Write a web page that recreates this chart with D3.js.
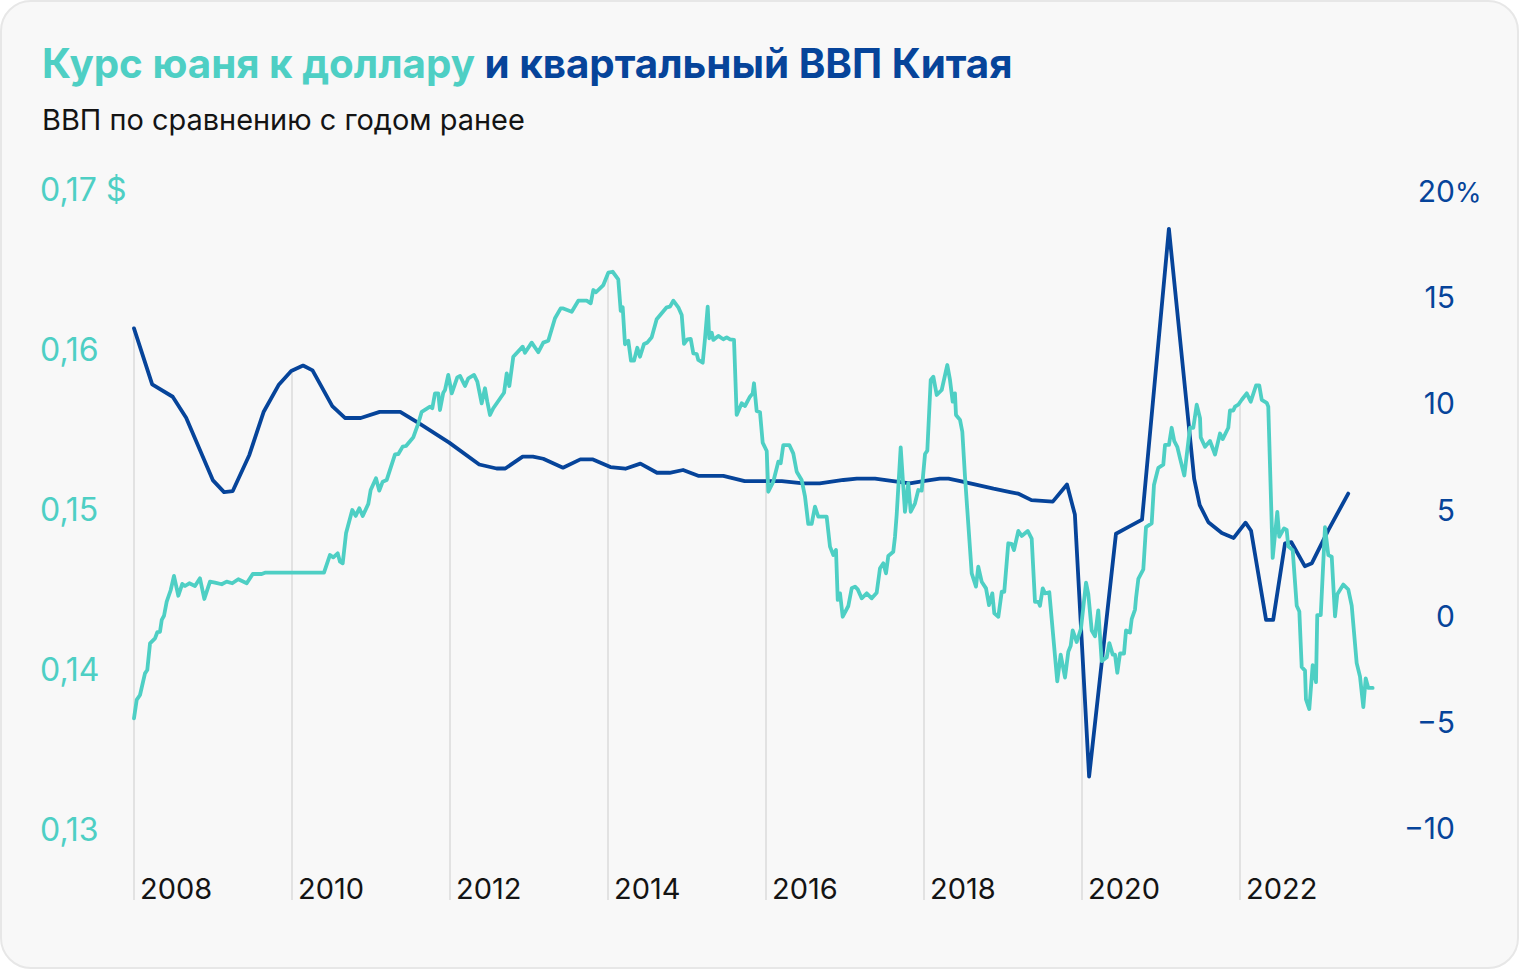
<!DOCTYPE html>
<html><head><meta charset="utf-8">
<script src="https://cdn.jsdelivr.net/npm/d3@7"></script>
<style>
html,body{margin:0;padding:0;background:#ffffff;}
svg{display:block;}
text{font-family:Inter,"Noto Sans",Roboto,sans-serif;}
</style></head><body>
<svg id="chart" width="1520" height="970"></svg>
<script>
// ---- DATA ----
const titleParts = ["Курс юаня к доллару", " и квартальный ВВП Китая"];
const subtitle = "ВВП по сравнению с годом ранее";

const yearTicks = [2008, 2010, 2012, 2014, 2016, 2018, 2020, 2022];
const yearLabels = ["2008", "2010", "2012", "2014", "2016", "2018", "2020", "2022"];

const yuanTicks = [0.13, 0.14, 0.15, 0.16, 0.17];
const yuanLabels = ["0,13", "0,14", "0,15", "0,16", "0,17 $"];

const gdpTicks = [-10, -5, 0, 5, 10, 15, 20];
const gdpLabels = ["−10", "−5", "0", "5", "10", "15", "20"];
const gdpTopSuffix = "%";

// Quarterly GDP, % y/y : [date (decimal year), value]
const gdpSeries = [
[2008.00,13.53],[2008.23,10.89],[2008.49,10.31],[2008.66,9.32],[2009.00,6.37],[2009.14,5.82],
[2009.25,5.87],[2009.46,7.57],[2009.64,9.59],[2009.83,10.86],[2009.99,11.52],[2010.14,11.78],
[2010.26,11.55],[2010.51,9.87],[2010.67,9.31],[2010.87,9.31],[2011.11,9.60],[2011.37,9.60],
[2011.62,9.03],[2011.99,8.15],[2012.37,7.12],[2012.59,6.93],[2012.70,6.93],[2012.92,7.49],
[2013.05,7.49],[2013.18,7.39],[2013.43,6.97],[2013.65,7.36],[2013.81,7.36],[2014.03,7.00],
[2014.22,6.92],[2014.41,7.16],[2014.62,6.73],[2014.78,6.73],[2014.95,6.86],[2015.15,6.58],
[2015.46,6.58],[2015.73,6.34],[2016.20,6.34],[2016.47,6.23],[2016.68,6.23],[2016.98,6.39],
[2017.15,6.45],[2017.38,6.45],[2017.61,6.34],[2017.82,6.23],[2017.99,6.34],[2018.20,6.45],
[2018.31,6.45],[2018.46,6.34],[2018.88,5.98],[2019.09,5.82],[2019.19,5.75],[2019.36,5.44],
[2019.63,5.37],[2019.81,6.18],[2019.91,4.76],[2020.09,-7.58],[2020.43,3.86],[2020.59,4.18],
[2020.76,4.52],[2021.10,18.22],[2021.42,6.44],[2021.49,5.21],[2021.60,4.40],[2021.77,3.89],
[2021.92,3.66],[2022.07,4.38],[2022.14,4.00],[2022.33,-0.20],[2022.42,-0.20],[2022.57,3.41],
[2022.65,3.46],[2022.82,2.33],[2022.91,2.47],[2023.12,4.04],[2023.37,5.75]
];

// Yuan in USD : [date (decimal year), value]
const yuanSeries = [
[2008.000,0.13698],[2008.034,0.13813],[2008.076,0.13844],[2008.139,0.13979],[2008.168,0.14000],
[2008.203,0.14167],[2008.266,0.14198],[2008.295,0.14236],[2008.329,0.14239],[2008.351,0.14313],
[2008.380,0.14339],[2008.414,0.14427],[2008.465,0.14500],[2008.506,0.14588],[2008.561,0.14464],
[2008.611,0.14538],[2008.646,0.14525],[2008.700,0.14542],[2008.772,0.14525],[2008.835,0.14573],
[2008.890,0.14444],[2008.962,0.14552],[2009.025,0.14546],[2009.110,0.14536],[2009.173,0.14552],
[2009.244,0.14542],[2009.320,0.14567],[2009.427,0.14542],[2009.503,0.14600],[2009.616,0.14600],
[2009.658,0.14608],[2010.405,0.14608],[2010.481,0.14719],[2010.523,0.14704],[2010.578,0.14729],
[2010.608,0.14677],[2010.642,0.14667],[2010.684,0.14854],[2010.763,0.15000],[2010.806,0.14963],
[2010.852,0.15011],[2010.895,0.14963],[2010.966,0.15038],[2010.996,0.15125],[2011.063,0.15198],
[2011.105,0.15121],[2011.148,0.15177],[2011.199,0.15188],[2011.304,0.15348],[2011.346,0.15350],
[2011.401,0.15396],[2011.443,0.15400],[2011.515,0.15442],[2011.535,0.15454],[2011.599,0.15542],
[2011.642,0.15614],[2011.747,0.15646],[2011.776,0.15636],[2011.810,0.15729],[2011.852,0.15729],
[2011.873,0.15625],[2011.915,0.15733],[2011.937,0.15750],[2011.978,0.15844],[2012.022,0.15729],
[2012.092,0.15829],[2012.127,0.15838],[2012.190,0.15775],[2012.232,0.15823],[2012.304,0.15844],
[2012.346,0.15802],[2012.401,0.15667],[2012.443,0.15761],[2012.472,0.15677],[2012.506,0.15594],
[2012.548,0.15636],[2012.684,0.15733],[2012.718,0.15854],[2012.751,0.15775],[2012.801,0.15958],
[2012.920,0.16021],[2012.949,0.15983],[2013.034,0.16046],[2013.118,0.15986],[2013.181,0.16046],
[2013.244,0.16058],[2013.329,0.16198],[2013.401,0.16260],[2013.434,0.16260],[2013.541,0.16239],
[2013.624,0.16308],[2013.730,0.16308],[2013.781,0.16292],[2013.814,0.16375],[2013.848,0.16361],
[2013.941,0.16406],[2014.004,0.16483],[2014.059,0.16489],[2014.130,0.16442],[2014.161,0.16244],
[2014.186,0.16267],[2014.215,0.16036],[2014.257,0.16058],[2014.291,0.15933],[2014.329,0.15933],
[2014.371,0.16014],[2014.405,0.15958],[2014.456,0.16038],[2014.497,0.16046],[2014.553,0.16080],
[2014.616,0.16192],[2014.743,0.16267],[2014.785,0.16271],[2014.827,0.16308],[2014.890,0.16267],
[2014.933,0.16219],[2014.962,0.16038],[2015.004,0.16067],[2015.047,0.16069],[2015.080,0.15979],
[2015.123,0.15975],[2015.143,0.15938],[2015.199,0.15921],[2015.228,0.16073],[2015.262,0.16271],
[2015.282,0.16073],[2015.313,0.16108],[2015.333,0.16063],[2015.396,0.16088],[2015.459,0.16067],
[2015.503,0.16079],[2015.544,0.16067],[2015.595,0.16063],[2015.629,0.15594],[2015.692,0.15667],
[2015.734,0.15650],[2015.797,0.15708],[2015.832,0.15729],[2015.848,0.15792],[2015.882,0.15619],
[2015.924,0.15611],[2015.958,0.15421],[2016.009,0.15369],[2016.029,0.15114],[2016.092,0.15177],
[2016.156,0.15302],[2016.186,0.15292],[2016.219,0.15406],[2016.295,0.15406],[2016.345,0.15354],
[2016.389,0.15239],[2016.451,0.15188],[2016.494,0.15083],[2016.535,0.14913],[2016.578,0.14913],
[2016.620,0.15021],[2016.662,0.14958],[2016.768,0.14958],[2016.810,0.14771],[2016.852,0.14719],
[2016.886,0.14750],[2016.908,0.14438],[2016.937,0.14479],[2016.971,0.14333],[2017.042,0.14400],
[2017.085,0.14511],[2017.127,0.14521],[2017.161,0.14504],[2017.211,0.14448],[2017.275,0.14479],
[2017.338,0.14448],[2017.401,0.14483],[2017.443,0.14636],[2017.485,0.14667],[2017.519,0.14604],
[2017.548,0.14713],[2017.611,0.14739],[2017.633,0.14833],[2017.654,0.14969],[2017.705,0.15392],
[2017.759,0.14989],[2017.801,0.15167],[2017.832,0.14989],[2017.886,0.15042],[2017.928,0.15125],
[2017.971,0.15121],[2018.013,0.15350],[2018.042,0.15371],[2018.085,0.15813],[2018.118,0.15833],
[2018.161,0.15719],[2018.224,0.15750],[2018.295,0.15906],[2018.329,0.15813],[2018.363,0.15677],
[2018.392,0.15729],[2018.405,0.15594],[2018.456,0.15563],[2018.485,0.15489],[2018.519,0.15208],
[2018.604,0.14604],[2018.658,0.14521],[2018.687,0.14646],[2018.730,0.14552],[2018.785,0.14510],
[2018.823,0.14406],[2018.865,0.14479],[2018.890,0.14354],[2018.941,0.14333],[2018.984,0.14489],
[2019.016,0.14489],[2019.067,0.14792],[2019.110,0.14789],[2019.139,0.14749],[2019.194,0.14869],
[2019.237,0.14838],[2019.313,0.14869],[2019.363,0.14821],[2019.405,0.14426],[2019.447,0.14426],
[2019.468,0.14402],[2019.503,0.14510],[2019.532,0.14479],[2019.586,0.14486],[2019.687,0.13929],
[2019.730,0.14096],[2019.785,0.13953],[2019.827,0.14115],[2019.857,0.14151],[2019.882,0.14247],
[2019.933,0.14175],[2019.987,0.14259],[2020.051,0.14546],[2020.080,0.14474],[2020.123,0.14247],
[2020.165,0.14211],[2020.206,0.14373],[2020.249,0.14055],[2020.313,0.14079],[2020.346,0.14168],
[2020.389,0.14096],[2020.418,0.14096],[2020.447,0.13983],[2020.481,0.14103],[2020.532,0.14103],
[2020.557,0.14247],[2020.608,0.14234],[2020.629,0.14318],[2020.671,0.14378],[2020.684,0.14450],
[2020.713,0.14569],[2020.776,0.14629],[2020.810,0.14893],[2020.882,0.14916],[2020.911,0.15156],
[2020.953,0.15239],[2020.966,0.15263],[2021.029,0.15283],[2021.051,0.15407],[2021.101,0.15407],
[2021.135,0.15514],[2021.168,0.15431],[2021.206,0.15395],[2021.241,0.15323],[2021.295,0.15216],
[2021.367,0.15514],[2021.409,0.15514],[2021.452,0.15658],[2021.494,0.15574],[2021.503,0.15454],
[2021.557,0.15395],[2021.620,0.15431],[2021.684,0.15347],[2021.747,0.15478],[2021.781,0.15443],
[2021.852,0.15514],[2021.873,0.15622],[2021.915,0.15622],[2021.937,0.15646],[2021.978,0.15658],
[2022.022,0.15689],[2022.085,0.15729],[2022.136,0.15677],[2022.203,0.15778],[2022.244,0.15778],
[2022.275,0.15689],[2022.338,0.15670],[2022.358,0.15646],[2022.414,0.14701],[2022.472,0.14988],
[2022.497,0.14833],[2022.557,0.14885],[2022.591,0.14876],[2022.611,0.14773],[2022.667,0.14749],
[2022.718,0.14402],[2022.751,0.14366],[2022.781,0.14019],[2022.823,0.13996],[2022.835,0.13816],
[2022.877,0.13756],[2022.920,0.14031],[2022.962,0.13924],[2022.978,0.14343],[2023.022,0.14343],
[2023.076,0.14893],[2023.118,0.14718],[2023.161,0.14708],[2023.203,0.14335],[2023.232,0.14474],
[2023.308,0.14534],[2023.371,0.14503],[2023.414,0.14402],[2023.477,0.14043],[2023.519,0.13959],
[2023.561,0.13768],[2023.591,0.13948],[2023.624,0.13888],[2023.679,0.13888]
];

// ---- STYLE ----
const TEAL = "#4ecfc4";
const BLUE = "#06449a";
const GRID = "#e2e2e2";
const INK = "#141414";

const svg = d3.select("#chart");

// card
svg.append("rect").attr("x", 1).attr("y", 1).attr("width", 1517).attr("height", 967)
  .attr("rx", 30).attr("ry", 30).attr("fill", "#f8f8f8").attr("stroke", "#e7e7e7").attr("stroke-width", 2);

// scales
const x = d3.scaleLinear().domain([2008, 2024]).range([134, 1398]);
const yL = d3.scaleLinear().domain([0.13, 0.17]).range([830, 190]);
const yR = d3.scaleLinear().domain([-10, 20]).range([828, 191]);

// title
const title = svg.append("text").attr("x", 42).attr("y", 78)
  .attr("font-weight", 700).attr("font-size", 40);
title.append("tspan").attr("fill", TEAL).text(titleParts[0]);
title.append("tspan").attr("fill", BLUE).text(titleParts[1]);
const tw = title.node().getComputedTextLength();
title.attr("font-size", 40 * 971 / tw);

const sub = svg.append("text").attr("x", 42).attr("y", 130)
  .attr("font-size", 28).attr("fill", INK).text(subtitle);
const sw = sub.node().getComputedTextLength();
sub.attr("font-size", 28 * 483 / sw);

// interpolation helper for drop grid lines
function valueAt(series, t) {
  const i = d3.bisector(d => d[0]).left(series, t);
  if (i <= 0) return series[0][1];
  if (i >= series.length) return series[series.length - 1][1];
  const a = series[i - 1], b = series[i];
  const f = (t - a[0]) / (b[0] - a[0]);
  return a[1] + f * (b[1] - a[1]);
}

// vertical grid lines (from baseline up to the highest line)
const gridBottom = 900;
svg.append("g").selectAll("line").data(yearTicks).join("line")
  .attr("x1", d => x(d)).attr("x2", d => x(d))
  .attr("y1", gridBottom)
  .attr("y2", d => Math.min(yL(valueAt(yuanSeries, d)), yR(valueAt(gdpSeries, d))))
  .attr("stroke", GRID).attr("stroke-width", 2);

// year labels
svg.append("g").selectAll("text").data(yearTicks).join("text")
  .attr("x", d => x(d) + 6).attr("y", 899)
  .attr("font-size", 29).attr("fill", INK)
  .text((d, i) => yearLabels[i]);

// left axis labels
svg.append("g").selectAll("text").data(yuanTicks).join("text")
  .attr("x", 40).attr("y", d => yL(d) + 11)
  .attr("font-size", 32).attr("fill", TEAL)
  .text((d, i) => yuanLabels[i]);

// right axis labels
svg.append("g").selectAll("text").data(gdpTicks).join("text")
  .attr("x", 1455).attr("y", d => yR(d) + 11)
  .attr("text-anchor", "end")
  .attr("font-size", 30).attr("fill", BLUE)
  .text((d, i) => gdpLabels[i]);
svg.append("text").attr("x", 1455).attr("y", yR(d3.max(gdpTicks)) + 11)
  .attr("font-size", 27).attr("fill", BLUE).text(gdpTopSuffix);

// lines
const lineL = d3.line().x(d => x(d[0])).y(d => yL(d[1]));
const lineR = d3.line().x(d => x(d[0])).y(d => yR(d[1]));

svg.append("path").datum(gdpSeries).attr("d", lineR)
  .attr("fill", "none").attr("stroke", BLUE).attr("stroke-width", 3.8)
  .attr("stroke-linejoin", "round").attr("stroke-linecap", "round");

svg.append("path").datum(yuanSeries).attr("d", lineL)
  .attr("fill", "none").attr("stroke", TEAL).attr("stroke-width", 3.8)
  .attr("stroke-linejoin", "round").attr("stroke-linecap", "round");
</script>
</body></html>
